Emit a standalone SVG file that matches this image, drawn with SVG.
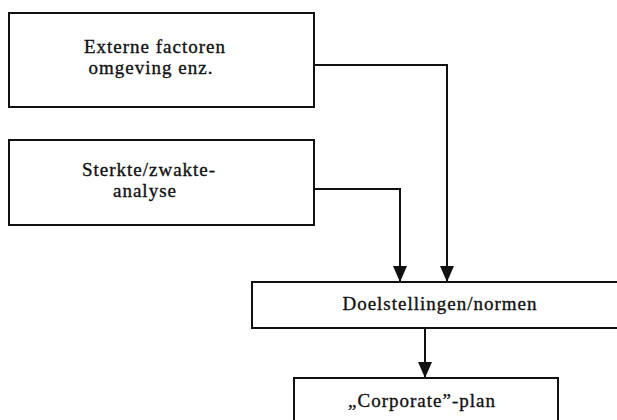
<svg xmlns="http://www.w3.org/2000/svg" width="617" height="420" viewBox="0 0 617 420">
<defs>
<style>
.box{fill:#fff;stroke:#111;stroke-width:2}
.lbl{font-family:"Liberation Serif","DejaVu Serif",serif;font-size:19px;fill:#111;stroke:#111;stroke-width:0.35px;text-anchor:middle;letter-spacing:1px}
.con{fill:none;stroke:#111;stroke-width:2}
</style>
<marker id="ah" viewBox="0 0 16 14" refX="16" refY="7" markerWidth="16" markerHeight="14" markerUnits="userSpaceOnUse" orient="auto">
<path d="M0,0 L16,7 L0,14 Z" fill="#111"/>
</marker>
</defs>
<rect width="617" height="420" fill="#fff"/>
<g id="externe">
<rect class="box" x="9" y="13" width="305" height="94"/>
<text class="lbl" x="155" y="53">Externe factoren</text>
<text class="lbl" x="151" y="74">omgeving enz.</text>
</g>
<g id="sterkte">
<rect class="box" x="9" y="140" width="305" height="85"/>
<text class="lbl" x="149" y="176">Sterkte/zwakte-</text>
<text class="lbl" x="145" y="197">analyse</text>
</g>
<g id="doelstellingen">
<rect class="box" x="252" y="282" width="370" height="46"/>
<text class="lbl" x="440" y="310">Doelstellingen/normen</text>
</g>
<g id="corporate">
<rect class="box" x="294" y="378" width="264" height="50"/>
<text class="lbl" x="422" y="407">„Corporate”-plan</text>
</g>
<g id="connectors">
<path class="con" d="M314,65 H447 V282" marker-end="url(#ah)"/>
<path class="con" d="M314,189 H400 V282" marker-end="url(#ah)"/>
<path class="con" d="M425,328 V378" marker-end="url(#ah)"/>
</g>
</svg>
